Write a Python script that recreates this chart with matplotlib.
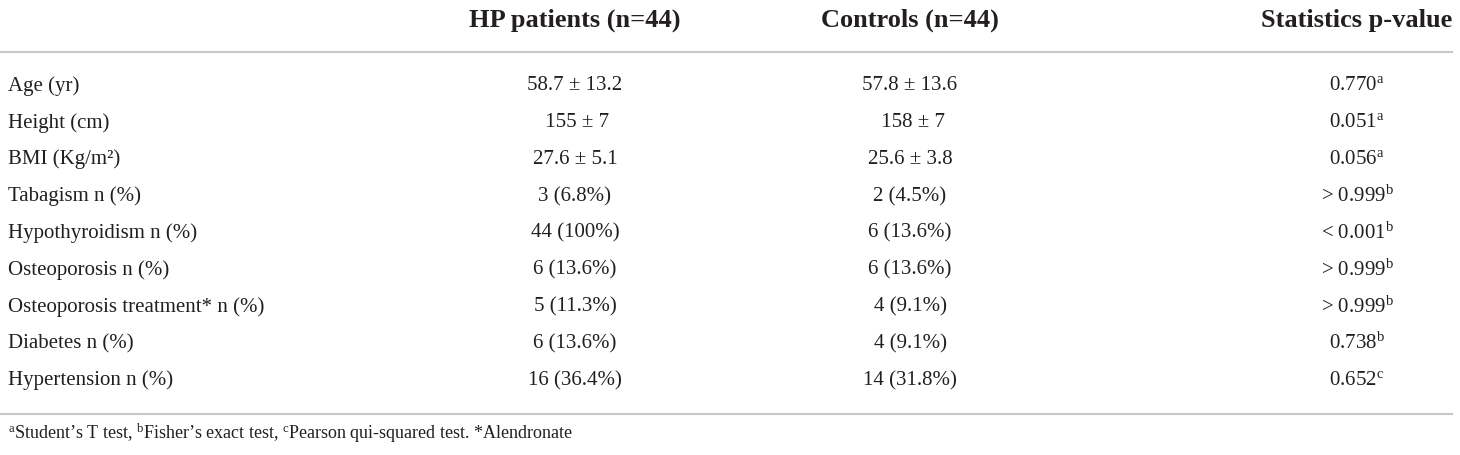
import matplotlib
matplotlib.use("Agg")
import matplotlib.pyplot as plt

plt.rcParams['font.family'] = ['Liberation Serif', 'DejaVu Serif']
plt.rcParams['mathtext.fontset'] = 'custom'
plt.rcParams['mathtext.rm'] = 'Liberation Serif'
plt.rcParams['mathtext.it'] = 'Liberation Serif:italic'

# table content
headers = ['HP patients (n=44)', 'Controls (n=44)', 'Statistics p-value']
labels = ['Age (yr)', 'Height (cm)', 'BMI (Kg/m²)', 'Tabagism n (%)',
          'Hypothyroidism n (%)', 'Osteoporosis n (%)',
          'Osteoporosis treatment* n (%)', 'Diabetes n (%)',
          'Hypertension n (%)']
hp_patients = ['58.7 ± 13.2', ' 155 ± 7', '27.6 ± 5.1', '3 (6.8%)', '44 (100%)',
               '6 (13.6%)', '5 (11.3%)', '6 (13.6%)', '16 (36.4%)']
controls = ['57.8 ± 13.6', ' 158 ± 7', '25.6 ± 3.8', '2 (4.5%)', '6 (13.6%)',
            '6 (13.6%)', '4 (9.1%)', '4 (9.1%)', '14 (31.8%)']
p_values = ['0.770', '0.051', '0.056', '> 0.999', '< 0.001', '> 0.999',
            '> 0.999', '0.738', '0.652']
p_tests = ['a', 'a', 'a', 'b', 'b', 'b', 'b', 'b', 'c']
footnote = (r"$^{\mathrm{a}}$Student’s T test, $^{\mathrm{b}}$Fisher’s exact test, "
            r"$^{\mathrm{c}}$Pearson qui-squared test. *Alendronate")

W, H = 1460, 455
fig = plt.figure(figsize=(W / 100, H / 100), dpi=100)
ax = fig.add_axes([0, 0, 1, 1])
ax.set_xlim(0, W)
ax.set_ylim(H, 0)
ax.axis('off')

txt = '#231f20'
line_c = '#c8c8c8'
col_x = [575, 910, 1357]
label_x = 8
row0, row_h = 86, 36.8

for x, h in zip(col_x, headers):
    ax.text(x, 20, h, ha='center', va='center', fontsize=19,
            fontweight='bold', color=txt)
ax.plot([0, 1452], [52, 52], color=line_c, lw=1.5)

for i, lab in enumerate(labels):
    y = row0 + i * row_h
    ax.text(label_x, y, lab, ha='left', va='center', fontsize=15, color=txt)
    ax.text(col_x[0], y, hp_patients[i], ha='center', va='center', fontsize=15, color=txt)
    ax.text(col_x[1], y, controls[i], ha='center', va='center', fontsize=15, color=txt)
    ax.text(col_x[2], y, p_values[i] + r'$^{\mathrm{' + p_tests[i] + '}}$',
            ha='center', va='center', fontsize=15, color=txt)

ax.plot([0, 1452], [414, 414], color=line_c, lw=1.5)
ax.text(label_x, 433, footnote, ha='left', va='center', fontsize=13, color=txt)

fig.savefig('out.png', dpi=100, facecolor='white')
